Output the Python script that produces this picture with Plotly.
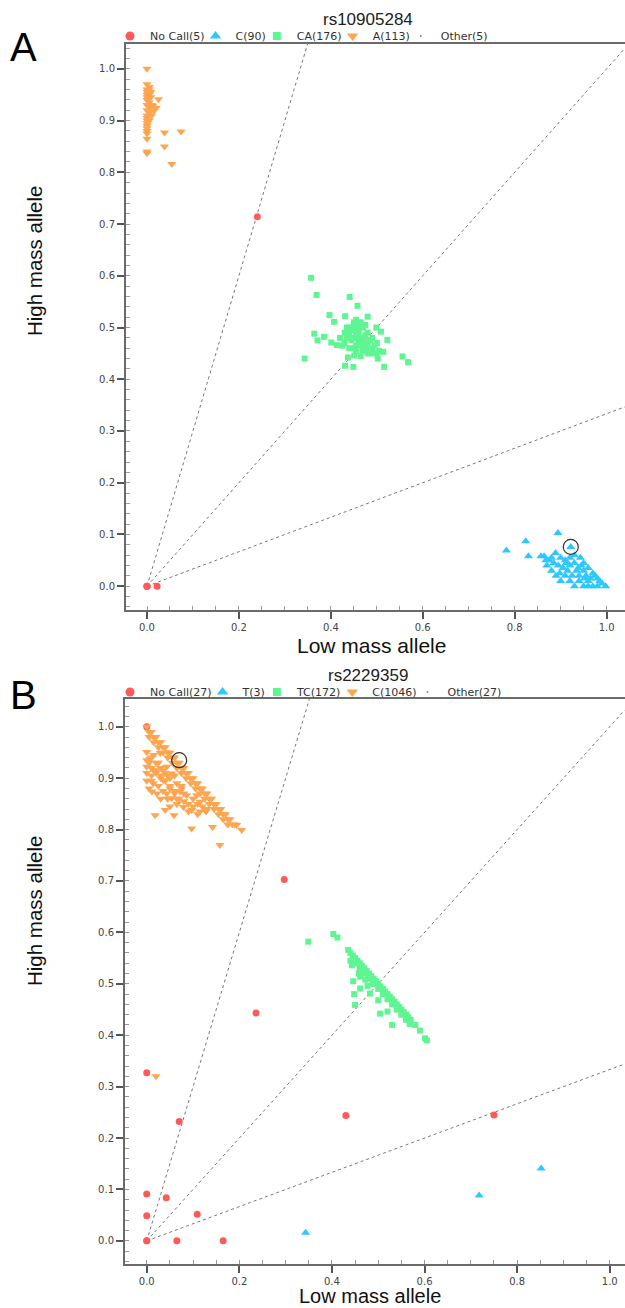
import plotly.graph_objects as go

W, H = 625, 1308

RED = "#FF5A5A"
CYAN = "#2EC8FF"
GREEN = "#5FF593"
ORANGE = "#FFA550"
OTHER = "#888888"
LINE = "#777777"

slopes = [3.0, 1.0, 1.0 / 3.0]

# ---------------- Panel A : rs10905284 ----------------
a_title = "rs10905284"
a_names = ["No Call(5)", "C(90)", "CA(176)", "A(113)", "Other(5)"]

a_nocall_x = [0.0, 0.0, 0.0, 0.022, 0.24]
a_nocall_y = [0.0, 0.0, 0.0, 0.0, 0.714]

a_c_x = [0.782, 0.824, 0.83, 0.894, 0.922, 0.864, 0.875, 0.889, 0.885, 0.9, 0.91, 0.92,
         0.93, 0.943, 0.95, 0.96, 0.97, 0.98, 0.99, 0.998, 0.88, 0.89, 0.9, 0.91, 0.92,
         0.93, 0.94, 0.95, 0.96, 0.97, 0.98, 0.905, 0.935, 0.945, 0.915, 0.925, 0.955,
         0.965, 0.895, 0.87, 0.88, 0.92, 0.93, 0.94, 0.95, 0.96, 0.985, 0.975, 0.857,
         0.868, 0.898, 0.912, 0.938, 0.952]
a_c_y = [0.069, 0.087, 0.058, 0.103, 0.076, 0.058, 0.05, 0.064, 0.045, 0.055, 0.05, 0.04,
         0.06, 0.055, 0.045, 0.035, 0.025, 0.015, 0.005, 0.0, 0.03, 0.02, 0.01, 0.02, 0.01,
         0.0, 0.02, 0.0, 0.01, 0.0, 0.0, 0.035, 0.03, 0.04, 0.03, 0.02, 0.02,
         0.015, 0.04, 0.04, 0.055, 0.055, 0.045, 0.01, 0.03, 0.0, 0.01, 0.02, 0.058,
         0.05, 0.025, 0.045, 0.035, 0.015]

a_ca_x = [0.357, 0.369, 0.441, 0.458, 0.397, 0.431, 0.48, 0.407, 0.499, 0.509, 0.364, 0.385,
          0.371, 0.401, 0.413, 0.523, 0.343, 0.431, 0.449, 0.516, 0.556, 0.568, 0.514, 0.502,
          0.437, 0.451, 0.44, 0.45, 0.46, 0.47, 0.45, 0.44, 0.46, 0.48, 0.47, 0.49, 0.48,
          0.50, 0.45, 0.43, 0.42, 0.46, 0.49, 0.44, 0.50, 0.43, 0.47, 0.48, 0.455, 0.465,
          0.475, 0.485, 0.445, 0.435, 0.465, 0.455, 0.455, 0.465, 0.475, 0.445, 0.455,
          0.47, 0.46, 0.485, 0.495, 0.44, 0.45, 0.435, 0.425, 0.47, 0.48, 0.49, 0.505,
          0.46, 0.475]
a_ca_y = [0.596, 0.563, 0.559, 0.542, 0.524, 0.522, 0.521, 0.511, 0.5, 0.492, 0.488, 0.482,
          0.475, 0.471, 0.466, 0.476, 0.44, 0.426, 0.424, 0.424, 0.444, 0.433, 0.453, 0.44,
          0.442, 0.446, 0.50, 0.50, 0.49, 0.48, 0.48, 0.48, 0.47, 0.47, 0.46, 0.46, 0.45,
          0.45, 0.46, 0.49, 0.48, 0.505, 0.48, 0.46, 0.47, 0.47, 0.50, 0.49, 0.515, 0.51,
          0.465, 0.455, 0.495, 0.5, 0.445, 0.455, 0.49, 0.475, 0.485, 0.475, 0.465,
          0.47, 0.48, 0.475, 0.465, 0.49, 0.51, 0.48, 0.465, 0.455, 0.46, 0.45, 0.455,
          0.495, 0.505]

a_a_x = [0.0, 0.0, 0.0, 0.0, 0.0, 0.0, 0.0, 0.0, 0.0, 0.0, 0.0, 0.0, 0.0, 0.0, 0.0, 0.0,
         0.0, 0.005, 0.005, 0.005, 0.008, 0.01, 0.012, 0.015, 0.017, 0.02, 0.025, 0.005,
         0.01, 0.0, 0.038, 0.038, 0.074, 0.054, 0.0, 0.0, 0.005, 0.005, 0.008, 0.008]
a_a_y = [1.0, 0.97, 0.96, 0.95, 0.94, 0.93, 0.92, 0.91, 0.90, 0.89, 0.88, 0.875, 0.865,
         0.84, 0.837, 0.955, 0.945, 0.965, 0.935, 0.915, 0.925, 0.93, 0.928, 0.92, 0.922,
         0.925, 0.941, 0.9, 0.91, 0.885, 0.877, 0.85, 0.879, 0.816, 0.895, 0.905, 0.95,
         0.96, 0.945, 0.955]

a_highlight_x = [0.922]
a_highlight_y = [0.076]

# ---------------- Panel B : rs2229359 ----------------
b_title = "rs2229359"
b_names = ["No Call(27)", "T(3)", "TC(172)", "C(1046)", "Other(27)"]

b_nocall_x = [0.297, 0.236, 0.0, 0.07, 0.43, 0.75, 0.0, 0.042, 0.0, 0.109, 0.0, 0.065,
              0.165, 0.0, 0.0]
b_nocall_y = [0.703, 0.443, 0.327, 0.232, 0.244, 0.245, 0.091, 0.084, 0.049, 0.052, 0.0,
              0.0, 0.0, 0.0, 1.0]

b_t_x = [0.343, 0.718, 0.852]
b_t_y = [0.016, 0.088, 0.141]

b_tc_x = [0.349, 0.403, 0.412, 0.435, 0.443, 0.446, 0.461, 0.461, 0.477, 0.482, 0.45,
          0.5, 0.504, 0.52, 0.53, 0.58, 0.59, 0.601, 0.562,
          0.445, 0.455, 0.465, 0.475, 0.485, 0.495, 0.505, 0.515, 0.525, 0.535, 0.545,
          0.555, 0.565, 0.57,
          0.45, 0.46, 0.47, 0.48, 0.49, 0.50, 0.51, 0.52, 0.53, 0.54, 0.55, 0.56, 0.568,
          0.605, 0.472, 0.488,
          0.44, 0.45, 0.46, 0.47, 0.48, 0.49, 0.50, 0.51, 0.52, 0.53, 0.54, 0.55, 0.56,
          0.44, 0.458, 0.448]
b_tc_y = [0.582, 0.597, 0.59, 0.566, 0.536, 0.505, 0.514, 0.491, 0.496, 0.481, 0.459,
          0.468, 0.442, 0.446, 0.42, 0.42, 0.409, 0.394, 0.436,
          0.555, 0.545, 0.535, 0.525, 0.515, 0.505, 0.495, 0.485, 0.475, 0.465, 0.455,
          0.445, 0.435, 0.43,
          0.54, 0.53, 0.52, 0.51, 0.50, 0.49, 0.48, 0.47, 0.46, 0.45, 0.44, 0.43, 0.422,
          0.39, 0.508, 0.5,
          0.56, 0.55, 0.54, 0.53, 0.52, 0.51, 0.50, 0.49, 0.48, 0.47, 0.46, 0.45, 0.44,
          0.545, 0.52, 0.48]

b_c_x = [0.0, 0.01, 0.02, 0.03, 0.04, 0.05, 0.06, 0.07, 0.08, 0.09, 0.10, 0.11, 0.12,
         0.13, 0.14, 0.15, 0.16, 0.17, 0.18, 0.19,
         0.005, 0.015, 0.025, 0.035, 0.045, 0.055, 0.065, 0.075, 0.085, 0.095, 0.105,
         0.115, 0.125, 0.135, 0.145, 0.155, 0.165, 0.175, 0.194, 0.205,
         0.005, 0.015, 0.025, 0.035, 0.045, 0.055, 0.065, 0.075, 0.085, 0.095, 0.105,
         0.115, 0.125, 0.135, 0.145, 0.155, 0.165, 0.175, 0.185,
         0.0, 0.029, 0.007, 0.0, 0.014, 0.043, 0.054, 0.014, 0.036, 0.065, 0.011, 0.022,
         0.043, 0.072, 0.086, 0.108, 0.115, 0.054, 0.079, 0.04, 0.018, 0.059, 0.097, 0.115,
         0.128, 0.097, 0.142, 0.158, 0.075, 0.02, 0.03, 0.05, 0.06, 0.025, 0.045, 0.01,
         0.035, 0.065, 0.08, 0.005, 0.02,
         0.01, 0.02, 0.03, 0.04, 0.05, 0.0, 0.01, 0.02, 0.03, 0.04, 0.05, 0.06, 0.07,
         0.0, 0.01, 0.025, 0.035, 0.045, 0.065, 0.09, 0.1, 0.1, 0.11, 0.09, 0.015,
         0.06, 0.075, 0.08, 0.0, 0.005, 0.03, 0.05, 0.12, 0.13, 0.11]
b_c_y = [1.0, 0.99, 0.98, 0.97, 0.96, 0.95, 0.94, 0.93, 0.92, 0.91, 0.90, 0.89, 0.88,
         0.87, 0.86, 0.85, 0.84, 0.83, 0.82, 0.81,
         0.98, 0.97, 0.96, 0.95, 0.94, 0.93, 0.92, 0.91, 0.90, 0.89, 0.88,
         0.87, 0.86, 0.85, 0.84, 0.83, 0.82, 0.81, 0.809, 0.799,
         0.99, 0.98, 0.97, 0.96, 0.95, 0.94, 0.93, 0.92, 0.91, 0.90, 0.89,
         0.88, 0.87, 0.86, 0.85, 0.84, 0.83, 0.82, 0.81,
         0.951, 0.949, 0.938, 0.922, 0.916, 0.922, 0.909, 0.89, 0.896, 0.89, 0.874, 0.87,
         0.87, 0.874, 0.867, 0.867, 0.854, 0.861, 0.844, 0.838, 0.828, 0.828, 0.838, 0.835,
         0.835, 0.802, 0.805, 0.77, 0.88, 0.91, 0.9, 0.885, 0.875, 0.93, 0.905, 0.905,
         0.915, 0.86, 0.855, 0.93, 0.32,
         0.94, 0.93, 0.92, 0.91, 0.9, 0.935, 0.92, 0.915, 0.905, 0.895, 0.88, 0.87,
         0.86, 0.91, 0.895, 0.885, 0.875, 0.86, 0.85, 0.85, 0.845, 0.86, 0.85, 0.835,
         0.945, 0.905, 0.885, 0.87, 0.895, 0.88, 0.86, 0.845, 0.845, 0.84, 0.83]

b_highlight_x = [0.07]
b_highlight_y = [0.935]

# ---------------- layout geometry ----------------
panels = [
    dict(xdom=[126 / W, 1.0], ydom=[1 - 610 / H, 1 - 44 / H],
         xr=[-0.0457, 1.04], yr=[-0.046, 1.048]),
    dict(xdom=[125 / W, 1.0], ydom=[1 - 1264 / H, 1 - 699 / H],
         xr=[-0.047, 1.033], yr=[-0.045, 1.054]),
]

fig = go.Figure()


def add_panel(idx, names, nocall, calls1, calls2, calls3, hl):
    xa = "x" if idx == 0 else "x2"
    ya = "y" if idx == 0 else "y2"
    lg = "legend" if idx == 0 else "legend2"
    p = panels[idx]
    xmax, ymax = p["xr"][1], p["yr"][1]
    for s in slopes:
        ex = min(xmax, ymax / s)
        fig.add_trace(go.Scatter(x=[0, ex], y=[0, s * ex], mode="lines", xaxis=xa, yaxis=ya,
                                 line=dict(color=LINE, width=1, dash="dot"),
                                 showlegend=False, hoverinfo="skip"))
    specs = [
        (names[0], nocall, "circle", RED, 7, 9),
        (names[1], calls1, "triangle-up", CYAN, 8, 10),
        (names[2], calls2, "square", GREEN, 6, 8),
        (names[3], calls3, "triangle-down", ORANGE, 8, 10),
    ]
    for nm, (xs, ys), sym, col, sz, lsz in specs:
        fig.add_trace(go.Scatter(x=xs, y=ys, mode="markers", name=nm, xaxis=xa, yaxis=ya,
                                 showlegend=False, hoverinfo="x+y",
                                 marker=dict(symbol=sym, color=col, size=sz,
                                             line=dict(width=0))))
        # legend entry (larger symbol, as in the reference legend row)
        fig.add_trace(go.Scatter(x=[None], y=[None], mode="markers", name=nm, xaxis=xa,
                                 yaxis=ya, legend=lg,
                                 marker=dict(symbol=sym, color=col, size=lsz,
                                             line=dict(width=0))))
    fig.add_trace(go.Scatter(x=[None], y=[None], mode="markers", name=names[4], xaxis=xa,
                             yaxis=ya, legend=lg,
                             marker=dict(symbol="circle", color=OTHER, size=2)))
    fig.add_trace(go.Scatter(x=hl[0], y=hl[1], mode="markers", xaxis=xa, yaxis=ya,
                             showlegend=False, hoverinfo="skip",
                             marker=dict(symbol="circle-open", size=15, color="#333333",
                                         line=dict(width=1.2))))


add_panel(0, a_names, (a_nocall_x, a_nocall_y), (a_c_x, a_c_y), (a_ca_x, a_ca_y),
          (a_a_x, a_a_y), (a_highlight_x, a_highlight_y))
add_panel(1, b_names, (b_nocall_x, b_nocall_y), (b_t_x, b_t_y), (b_tc_x, b_tc_y),
          (b_c_x, b_c_y), (b_highlight_x, b_highlight_y))

tickfont = dict(family="DejaVu Sans", size=10, color="#444444")


def xaxis_cfg(p, anchor):
    return dict(domain=p["xdom"], range=p["xr"], anchor=anchor, tick0=0, dtick=0.2,
                tickformat=".1f", ticks="outside", ticklen=7, tickwidth=1.5,
                tickcolor="#555555", showline=True, linecolor="#6a6a6a", linewidth=2,
                mirror=True, showgrid=False, zeroline=False, tickfont=tickfont,
                minor=dict(dtick=0.05, tick0=0, ticks="inside", ticklen=4, tickwidth=1,
                           tickcolor="#999999", showgrid=False))


def yaxis_cfg(p, anchor):
    return dict(domain=p["ydom"], range=p["yr"], anchor=anchor, tick0=0, dtick=0.1,
                tickformat=".1f", ticks="outside", ticklen=7, tickwidth=1.5,
                tickcolor="#555555", showline=True, linecolor="#6a6a6a", linewidth=2,
                mirror=False, showgrid=False, zeroline=False, tickfont=tickfont,
                minor=dict(dtick=0.02, tick0=0, ticks="inside", ticklen=4, tickwidth=1,
                           tickcolor="#999999", showgrid=False))


legfont = dict(family="DejaVu Sans", size=11, color="#333333")

fig.update_layout(
    width=W, height=H,
    margin=dict(l=0, r=0, t=0, b=0),
    paper_bgcolor="white", plot_bgcolor="white",
    xaxis=xaxis_cfg(panels[0], "y"),
    yaxis=yaxis_cfg(panels[0], "x"),
    xaxis2=xaxis_cfg(panels[1], "y2"),
    yaxis2=yaxis_cfg(panels[1], "x2"),
    legend=dict(orientation="h", x=124 / W, xanchor="left", y=1 - 36 / H, yanchor="middle",
                font=legfont, bgcolor="rgba(0,0,0,0)", itemwidth=30, indentation=-14),
    legend2=dict(orientation="h", x=124 / W, xanchor="left", y=1 - 692 / H,
                 yanchor="middle", font=legfont, bgcolor="rgba(0,0,0,0)", itemwidth=30,
                 indentation=-14),
    showlegend=True,
)

lab_font = dict(family="Liberation Sans", size=21, color="#111111")
lab_font_b = dict(family="Liberation Sans", size=20, color="#111111")
vlab_font = dict(family="Liberation Sans", size=20.5, color="#111111")
ttl_font = dict(family="Liberation Sans", size=17, color="#222222")
big_font = dict(family="Liberation Sans", size=40, color="#000000")

annots = [
    dict(text="A", x=23 / W, y=1 - 47 / H, font=big_font),
    dict(text="B", x=23 / W, y=1 - 695 / H, font=big_font),
    dict(text=a_title, x=368 / W, y=1 - 19 / H, font=ttl_font),
    dict(text=b_title, x=368 / W, y=1 - 675 / H, font=ttl_font),
    dict(text="Low mass allele", x=371 / W, y=1 - 645 / H, font=lab_font),
    dict(text="Low mass allele", x=370 / W, y=0.0, font=lab_font_b, yanchor="bottom",
         borderpad=0),
    dict(text="High mass allele", x=35 / W, y=1 - 261 / H, font=vlab_font, textangle=-90),
    dict(text="High mass allele", x=35 / W, y=1 - 911 / H, font=vlab_font, textangle=-90),
]
for a in annots:
    a.setdefault("yanchor", "middle")
    a.update(xref="paper", yref="paper", showarrow=False, xanchor="center")
fig.update_layout(annotations=annots)

fig.write_html("out.html")
